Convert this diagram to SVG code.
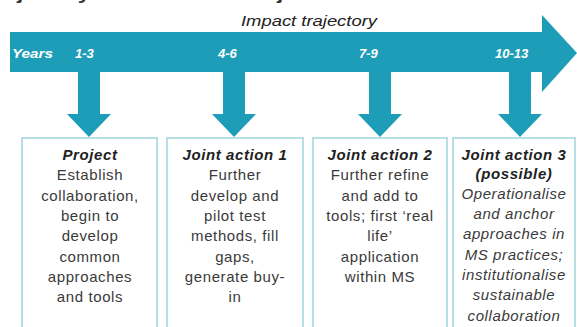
<svg xmlns="http://www.w3.org/2000/svg" width="577" height="327" viewBox="0 0 577 327">
<style>
.box{fill:#ffffff;stroke:#a3d6df;stroke-width:1.6}
.arr{fill:#1e9db8}
.yr{font-family:"Liberation Sans",Arial,sans-serif;font-size:13px;font-weight:bold;font-style:italic;fill:#ffffff}
.t{font-family:"Liberation Sans",Arial,sans-serif;font-size:15px;fill:#3a3a3a;text-anchor:middle;letter-spacing:0.6px}
.h{font-weight:bold;font-style:italic;fill:#222222}
.i{font-style:italic}
</style>
<rect width="577" height="327" fill="#ffffff"/>
<text x="-4" y="0" font-family="Liberation Sans,Arial,sans-serif" font-size="16" font-weight="bold" fill="#333333" textLength="400" lengthAdjust="spacingAndGlyphs">rajectory of the EUnetHTA joint action</text>
<g id="timeline">
<path class="arr" d="M10,32 H542 V15 L577,53 L542,92 V72 H10 Z"/>
<text x="241" y="26" font-family="Liberation Sans,Arial,sans-serif" font-size="14" font-style="italic" fill="#222222" textLength="136" lengthAdjust="spacingAndGlyphs">Impact trajectory</text>
<text class="yr" x="12" y="58" textLength="41" lengthAdjust="spacingAndGlyphs">Years</text>
<text class="yr" x="75" y="58">1-3</text>
<text class="yr" x="218" y="58">4-6</text>
<text class="yr" x="359" y="58">7-9</text>
<text class="yr" x="495" y="58">10-13</text>
</g>
<g id="connectors">
<path class="arr" d="M78,72 H100 V114 H111 L89,137 L67,114 H78 Z"/>
<path class="arr" d="M223,72 H245 V114 H256 L234,137 L212,114 H223 Z"/>
<path class="arr" d="M369,72 H391 V114 H402 L380,137 L358,114 H369 Z"/>
<path class="arr" d="M509,72 H531 V114 H542 L520,137 L498,114 H509 Z"/>
</g>
<g id="project">
<rect class="box" x="22" y="138" width="135" height="190"/>
<text class="t" x="90" y="160"><tspan class="h">Project</tspan><tspan x="90" dy="20.3">Establish</tspan><tspan x="90" dy="20.3">collaboration,</tspan><tspan x="90" dy="20.3">begin to</tspan><tspan x="90" dy="20.3">develop</tspan><tspan x="90" dy="20.3">common</tspan><tspan x="90" dy="20.3">approaches</tspan><tspan x="90" dy="20.3">and tools</tspan></text>
</g>
<g id="ja1">
<rect class="box" x="167" y="138" width="136" height="190"/>
<text class="t" x="235" y="160"><tspan class="h">Joint action 1</tspan><tspan x="235" dy="20.3">Further</tspan><tspan x="235" dy="20.3">develop and</tspan><tspan x="235" dy="20.3">pilot test</tspan><tspan x="235" dy="20.3">methods, fill</tspan><tspan x="235" dy="20.3">gaps,</tspan><tspan x="235" dy="20.3">generate buy-</tspan><tspan x="235" dy="20.3">in</tspan></text>
</g>
<g id="ja2">
<rect class="box" x="313" y="138" width="134" height="190"/>
<text class="t" x="380" y="160"><tspan class="h">Joint action 2</tspan><tspan x="380" dy="20.3">Further refine</tspan><tspan x="380" dy="20.3">and add to</tspan><tspan x="380" dy="20.3">tools; first ‘real</tspan><tspan x="380" dy="20.3">life’</tspan><tspan x="380" dy="20.3">application</tspan><tspan x="380" dy="20.3">within MS</tspan></text>
</g>
<g id="ja3">
<rect class="box" x="453" y="138" width="122" height="190"/>
<text class="t" x="514" y="160" letter-spacing="0.3"><tspan class="h">Joint action 3</tspan><tspan x="514" dy="18.5" class="h">(possible)</tspan><tspan x="514" dy="20.3" class="i">Operationalise</tspan><tspan x="514" dy="20.3" class="i">and anchor</tspan><tspan x="514" dy="20.3" class="i">approaches in</tspan><tspan x="514" dy="20.3" class="i">MS practices;</tspan><tspan x="514" dy="20.3" class="i">institutionalise</tspan><tspan x="514" dy="20.3" class="i">sustainable</tspan><tspan x="514" dy="20.3" class="i">collaboration</tspan></text>
</g>
</svg>
